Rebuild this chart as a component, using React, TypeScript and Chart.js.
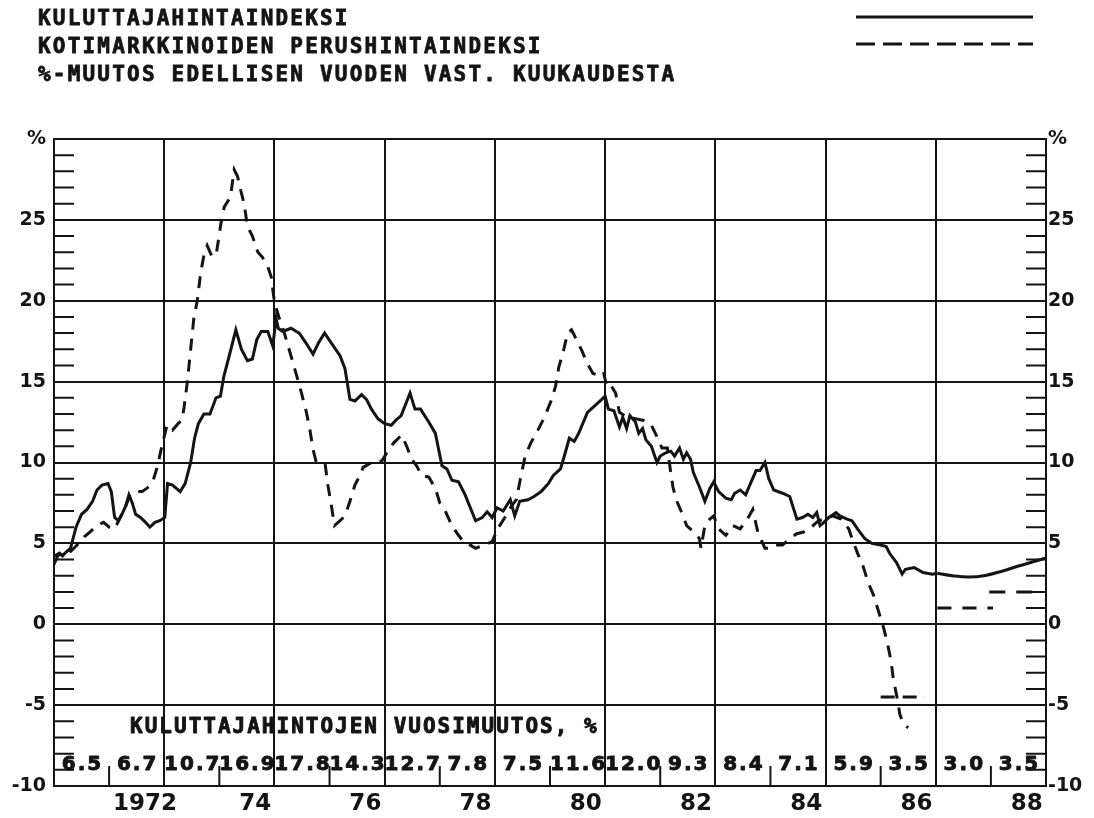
import React, { useEffect, useRef } from 'react';
import { Chart, registerables } from 'chart.js';

Chart.register(...registerables);

// ---------- DATA ----------
// Consumer price index, % change on same month of previous year  [year, value]
const cpiMonthly: [number, number][] = [
  [1971.0, 3.7], [1971.08, 4.3], [1971.17, 4.3], [1971.3, 4.7], [1971.4, 6.0], [1971.5, 6.8],
  [1971.6, 7.1], [1971.7, 7.6], [1971.78, 8.3], [1971.87, 8.6], [1971.98, 8.7], [1972.04, 8.2],
  [1972.1, 6.6], [1972.17, 6.4], [1972.22, 6.7], [1972.3, 7.3], [1972.36, 8.0], [1972.42, 7.5],
  [1972.48, 6.8], [1972.57, 6.6], [1972.66, 6.3], [1972.74, 6.0], [1972.83, 6.3], [1972.92, 6.4],
  [1973.01, 6.6], [1973.06, 8.7], [1973.15, 8.6], [1973.29, 8.2], [1973.38, 8.7], [1973.48, 10.0],
  [1973.55, 11.5], [1973.62, 12.4], [1973.72, 13.0], [1973.83, 13.0], [1973.94, 14.0], [1974.02, 14.1],
  [1974.08, 15.3], [1974.18, 16.6], [1974.3, 18.2], [1974.4, 17.0], [1974.51, 16.3], [1974.6, 16.4],
  [1974.68, 17.6], [1974.76, 18.1], [1974.88, 18.1], [1974.97, 17.2], [1975.03, 18.9], [1975.07, 18.3],
  [1975.15, 18.1], [1975.3, 18.3], [1975.45, 18.0], [1975.57, 17.4], [1975.7, 16.7], [1975.8, 17.4],
  [1975.91, 18.0], [1976.03, 17.4], [1976.19, 16.6], [1976.28, 15.8], [1976.37, 13.9], [1976.46, 13.8],
  [1976.58, 14.2], [1976.67, 13.9], [1976.76, 13.3], [1976.88, 12.7], [1977.0, 12.4], [1977.12, 12.3],
  [1977.2, 12.6], [1977.3, 12.9], [1977.46, 14.3], [1977.55, 13.3], [1977.65, 13.3], [1977.8, 12.5],
  [1977.92, 11.8], [1978.04, 9.8], [1978.13, 9.6], [1978.22, 8.9], [1978.34, 8.8], [1978.46, 8.0],
  [1978.65, 6.4], [1978.77, 6.6], [1978.86, 6.95], [1978.95, 6.6], [1979.04, 7.2], [1979.15, 7.0],
  [1979.28, 7.7], [1979.36, 6.7], [1979.45, 7.6], [1979.6, 7.7], [1979.71, 7.9], [1979.84, 8.2],
  [1979.97, 8.7], [1980.06, 9.2], [1980.19, 9.6], [1980.26, 10.4], [1980.35, 11.5], [1980.44, 11.3],
  [1980.52, 11.8], [1980.68, 13.1], [1980.81, 13.5], [1980.94, 13.9], [1981.0, 14.1], [1981.06, 13.3],
  [1981.16, 13.2], [1981.26, 12.2], [1981.32, 12.8], [1981.39, 12.1], [1981.45, 12.9], [1981.55, 12.5],
  [1981.61, 11.8], [1981.68, 12.1], [1981.74, 11.4], [1981.84, 11.0], [1981.94, 10.0], [1982.0, 10.4],
  [1982.1, 10.6], [1982.19, 10.7], [1982.26, 10.4], [1982.35, 10.9], [1982.42, 10.2], [1982.48, 10.6],
  [1982.55, 10.2], [1982.6, 9.4], [1982.71, 8.5], [1982.81, 7.6], [1982.9, 8.4], [1982.97, 8.8],
  [1983.06, 8.2], [1983.19, 7.8], [1983.29, 7.7], [1983.35, 8.1], [1983.45, 8.3], [1983.55, 8.0],
  [1983.65, 8.8], [1983.74, 9.5], [1983.81, 9.5], [1983.9, 10.0], [1983.97, 9.0], [1984.06, 8.3],
  [1984.22, 8.1], [1984.35, 7.9], [1984.48, 6.5], [1984.58, 6.6], [1984.68, 6.8], [1984.77, 6.6],
  [1984.84, 6.9], [1984.9, 6.1], [1984.97, 6.3], [1985.06, 6.6], [1985.19, 6.9], [1985.26, 6.7],
  [1985.39, 6.5], [1985.48, 6.4], [1985.58, 5.9], [1985.71, 5.3], [1985.84, 5.0], [1986.0, 4.9],
  [1986.1, 4.8], [1986.16, 4.4], [1986.29, 3.8], [1986.39, 3.1], [1986.45, 3.4], [1986.61, 3.5],
  [1986.77, 3.2], [1986.94, 3.1], [1987.03, 3.15],
];

// Consumer price forecast 1987-88 (smooth curve)
const cpiForecast: [number, number][] = [
  [1987.03, 3.15], [1987.3, 3.0], [1987.6, 2.92], [1987.9, 3.02], [1988.2, 3.28], [1988.5, 3.6],
  [1988.75, 3.85], [1989.0, 4.1],
];

// Domestic supply (basic) price index, % change  [year, value]
const basicPriceMonthly: [number, number][] = [
  [1971.0, 4.2], [1971.1, 4.4], [1971.2, 4.1], [1971.3, 4.5], [1971.45, 5.0], [1971.55, 5.4],
  [1971.65, 5.7], [1971.78, 6.1], [1971.9, 6.3], [1972.0, 6.0], [1972.1, 5.9], [1972.2, 6.6],
  [1972.3, 7.3], [1972.38, 8.0], [1972.5, 8.2], [1972.6, 8.2], [1972.72, 8.5], [1972.8, 8.9],
  [1972.88, 9.8], [1972.95, 10.9], [1973.0, 11.6], [1973.05, 12.3], [1973.15, 12.0], [1973.25, 12.4],
  [1973.32, 12.6], [1973.36, 13.4], [1973.42, 15.0], [1973.48, 17.0], [1973.54, 19.0], [1973.6, 20.0],
  [1973.66, 21.7], [1973.72, 22.8], [1973.78, 23.4], [1973.87, 22.7], [1973.95, 23.0], [1974.03, 24.8],
  [1974.09, 25.8], [1974.2, 26.4], [1974.27, 28.1], [1974.33, 27.7], [1974.39, 26.8], [1974.45, 26.0],
  [1974.51, 24.6], [1974.6, 24.0], [1974.7, 23.0], [1974.78, 22.7], [1974.88, 22.1], [1974.94, 21.5],
  [1975.0, 19.9], [1975.08, 19.0], [1975.18, 18.0], [1975.3, 16.6], [1975.4, 15.4], [1975.49, 14.3],
  [1975.58, 13.1], [1975.64, 12.1], [1975.7, 10.8], [1975.76, 10.0], [1975.85, 10.0], [1975.92, 9.9],
  [1975.97, 8.6], [1976.03, 7.4], [1976.09, 6.1], [1976.19, 6.4], [1976.28, 6.7], [1976.37, 7.6],
  [1976.46, 8.6], [1976.55, 9.2], [1976.61, 9.7], [1976.76, 10.0], [1976.95, 10.1], [1977.04, 10.6],
  [1977.16, 11.2], [1977.31, 11.7], [1977.4, 11.0], [1977.49, 10.2], [1977.58, 9.8], [1977.67, 9.2],
  [1977.8, 9.1], [1977.92, 8.4], [1978.0, 7.5], [1978.1, 7.0], [1978.22, 6.1], [1978.34, 5.5],
  [1978.43, 5.1], [1978.5, 5.0], [1978.65, 4.7], [1978.8, 4.9], [1978.95, 5.1], [1979.05, 5.9],
  [1979.2, 6.7], [1979.3, 7.3], [1979.39, 7.7], [1979.48, 9.3], [1979.55, 10.4], [1979.65, 11.2],
  [1979.78, 12.0], [1979.9, 12.8], [1980.03, 13.9], [1980.1, 14.7], [1980.16, 15.9], [1980.23, 16.7],
  [1980.32, 18.0], [1980.39, 18.2], [1980.48, 17.6], [1980.58, 16.9], [1980.68, 16.1], [1980.78, 15.5],
  [1980.87, 15.4], [1980.97, 15.6], [1981.03, 14.7], [1981.1, 14.8], [1981.19, 14.3], [1981.26, 13.1],
  [1981.4, 12.8], [1981.55, 12.7], [1981.7, 12.6], [1981.84, 12.3], [1981.94, 11.6], [1982.03, 10.9],
  [1982.13, 10.9], [1982.19, 9.4], [1982.23, 8.5], [1982.29, 7.7], [1982.39, 6.9], [1982.48, 6.1],
  [1982.61, 5.7], [1982.71, 5.3], [1982.74, 4.7], [1982.81, 6.1], [1982.9, 6.5], [1982.97, 6.7],
  [1983.06, 5.9], [1983.19, 5.5], [1983.32, 6.1], [1983.45, 5.9], [1983.58, 6.5], [1983.68, 7.1],
  [1983.77, 5.7], [1983.9, 4.7], [1984.0, 4.7], [1984.1, 4.9], [1984.22, 4.9], [1984.35, 5.3],
  [1984.48, 5.6], [1984.6, 5.7], [1984.74, 6.0], [1984.87, 6.4], [1984.97, 6.5], [1985.13, 6.7],
  [1985.28, 6.5], [1985.42, 5.9], [1985.48, 5.3], [1985.58, 4.4], [1985.68, 3.6], [1985.77, 2.6],
  [1985.87, 1.8], [1985.97, 0.7], [1986.06, -0.3], [1986.13, -1.3], [1986.19, -2.3], [1986.23, -3.4],
  [1986.29, -4.4], [1986.35, -5.6], [1986.42, -6.2], [1986.5, -6.4],
];

// Basic price forecasts
const basicForecast1986: [number, number][] = [[1986.0, -4.5], [1986.8, -4.5]];
const basicForecast1987: [number, number][] = [[1987.03, 1.0], [1988.04, 1.0]];
const basicForecast1988: [number, number][] = [[1987.97, 2.0], [1988.95, 2.0]];

// Annual consumer price change row
const annualYears = [1971, 1972, 1973, 1974, 1975, 1976, 1977, 1978, 1979, 1980, 1981, 1982, 1983, 1984, 1985, 1986, 1987, 1988];
const annualCpi = ['6.5', '6.7', '10.7', '16.9', '17.8', '14.3', '12.7', '7.8', '7.5', '11.6', '12.0', '9.3', '8.4', '7.1', '5.9', '3.5', '3.0', '3.5'];

// Axis
const yearTickValues = [1972, 1974, 1976, 1978, 1980, 1982, 1984, 1986, 1988];
const yearTickLabels = ['1972', '74', '76', '78', '80', '82', '84', '86', '88'];
const gridYears = [1973, 1975, 1977, 1979, 1981, 1983, 1985, 1987];
const X_MIN = 1971;
const X_MAX = 1989;
const Y_MIN = -10;
const Y_MAX = 30;

const legendTitles = ['KULUTTAJAHINTAINDEKSI', 'KOTIMARKKINOIDEN PERUSHINTAINDEKSI'];
const subTitle = '%-MUUTOS EDELLISEN VUODEN VAST. KUUKAUDESTA';
const rowCaption = 'KULUTTAJAHINTOJEN VUOSIMUUTOS, %';

// ---------- STYLE ----------
const INK = '#141414';
const MONO = "'DejaVu Sans Mono', monospace";
const SANS = "'DejaVu Sans', sans-serif";
const LABEL_SHIFT = 0.65;

const toXY = (arr: [number, number][]) => arr.map(([x, y]) => ({ x, y }));

const decorPlugin = {
  id: 'decor',
  afterDraw(chart: any) {
    const { ctx, chartArea: a, scales } = chart;
    const xs = scales.x;
    const ys = scales.y;
    ctx.save();
    ctx.strokeStyle = INK;
    ctx.lineWidth = 2;
    ctx.setLineDash([]);
    ctx.beginPath();
    for (let v = Y_MIN + 1; v < Y_MAX; v++) {
      if (v % 5 === 0) continue;
      const py = ys.getPixelForValue(v);
      ctx.moveTo(a.left, py);
      ctx.lineTo(a.left + 20, py);
      ctx.moveTo(a.right - 20, py);
      ctx.lineTo(a.right, py);
    }
    for (const yr of yearTickValues) {
      const px = xs.getPixelForValue(yr);
      ctx.moveTo(px, a.bottom);
      ctx.lineTo(px, a.bottom - 20);
    }
    ctx.stroke();

    ctx.fillStyle = INK;
    ctx.lineWidth = 0.9;
    ctx.lineJoin = 'round';
    ctx.textBaseline = 'middle';
    ctx.textAlign = 'center';
    ctx.font = `bold 20px ${SANS}`;
    (ctx as any).letterSpacing = '2px';
    annualYears.forEach((yr, i) => {
      const px = xs.getPixelForValue(yr + 0.5) + 1;
      ctx.fillText(annualCpi[i], px, a.bottom - 21);
      ctx.strokeText(annualCpi[i], px, a.bottom - 21);
    });

    ctx.textAlign = 'left';
    ctx.font = `bold 21px ${MONO}`;
    (ctx as any).letterSpacing = '2px';
    const cx = xs.getPixelForValue(1972.38);
    ctx.fillText(rowCaption, cx, a.bottom - 58);
    ctx.strokeText(rowCaption, cx, a.bottom - 58);

    // legend samples
    ctx.lineWidth = 3;
    ctx.beginPath();
    ctx.moveTo(856, 17);
    ctx.lineTo(1033, 17);
    ctx.stroke();
    ctx.setLineDash([19, 8]);
    ctx.beginPath();
    ctx.moveTo(856, 44);
    ctx.lineTo(1033, 44);
    ctx.stroke();
    ctx.restore();
  },
};

function ChartCanvas() {
  const ref = useRef<HTMLCanvasElement | null>(null);
  useEffect(() => {
    if (!ref.current) return;
    const labelPositions = yearTickValues.map((v) => v + LABEL_SHIFT);
    const lineBase = { pointRadius: 0, borderColor: INK, fill: false, spanGaps: true };
    const chart = new Chart(ref.current, {
      type: 'line',
      data: {
        datasets: [
          { ...lineBase, label: legendTitles[0], data: toXY(cpiMonthly), borderWidth: 3, tension: 0 },
          { ...lineBase, label: legendTitles[0] + ' ennuste', data: toXY(cpiForecast), borderWidth: 3, tension: 0.4 },
          { ...lineBase, label: legendTitles[1], data: toXY(basicPriceMonthly), borderWidth: 3, borderDash: [12, 9], tension: 0 },
          { ...lineBase, label: legendTitles[1] + ' 1986', data: toXY(basicForecast1986), borderWidth: 3, borderDash: [14, 8] },
          { ...lineBase, label: legendTitles[1] + ' 1987', data: toXY(basicForecast1987), borderWidth: 3, borderDash: [14, 11] },
          { ...lineBase, label: legendTitles[1] + ' 1988', data: toXY(basicForecast1988), borderWidth: 3, borderDash: [16, 11] },
        ],
      },
      options: {
        animation: false,
        responsive: false,
        devicePixelRatio: 1,
        layout: { padding: { top: 139, left: 0, right: 0, bottom: 0 } },
        plugins: { legend: { display: false }, tooltip: { enabled: false }, title: { display: false } },
        scales: {
          x: {
            type: 'linear',
            min: X_MIN,
            max: X_MAX,
            afterBuildTicks: (scale: any) => {
              scale.ticks = [...gridYears, ...labelPositions].sort((p, q) => p - q).map((value) => ({ value }));
            },
            afterFit: (scale: any) => {
              scale.height = 32;
            },
            grid: {
              drawTicks: false,
              lineWidth: 2,
              color: (c: any) => (c.tick && gridYears.includes(c.tick.value) ? INK : 'rgba(0,0,0,0)'),
            },
            border: { display: true, color: INK, width: 2 },
            ticks: {
              autoSkip: false,
              maxRotation: 0,
              padding: 4,
              color: INK,
              font: { family: SANS, size: 23, weight: 'bold' },
              callback: (value: any) => {
                const i = labelPositions.findIndex((p) => Math.abs(p - Number(value)) < 1e-6);
                return i >= 0 ? yearTickLabels[i] : '';
              },
            },
          },
          y: {
            type: 'linear',
            position: 'left',
            min: Y_MIN,
            max: Y_MAX,
            afterFit: (scale: any) => {
              scale.width = 54;
            },
            grid: { drawTicks: false, lineWidth: 2, color: INK },
            border: { display: true, color: INK, width: 2 },
            ticks: {
              stepSize: 5,
              padding: 8,
              color: INK,
              font: { family: SANS, size: 19, weight: 'bold' },
              callback: (v: any) => (Number(v) === Y_MAX ? '%' : String(v)),
            },
          },
          y2: {
            type: 'linear',
            position: 'right',
            min: Y_MIN,
            max: Y_MAX,
            afterFit: (scale: any) => {
              scale.width = 48;
            },
            grid: { display: false, drawTicks: false },
            border: { display: true, color: INK, width: 2 },
            ticks: {
              stepSize: 5,
              padding: 2,
              color: INK,
              font: { family: SANS, size: 19, weight: 'bold' },
              callback: (v: any) => (Number(v) === Y_MAX ? '%' : String(v)),
            },
          },
        },
      } as any,
      plugins: [decorPlugin],
    });
    return () => chart.destroy();
  }, []);
  return <canvas ref={ref} width={1094} height={818} style={{ position: 'absolute', left: 0, top: 0, width: 1094, height: 818 }} />;
}

export default function App() {
  const lineStyle: React.CSSProperties = {
    position: 'absolute',
    left: 38,
    margin: 0,
    fontFamily: MONO,
    fontWeight: 'bold',
    fontSize: 21,
    letterSpacing: '2.2px',
    lineHeight: '28px',
    color: INK,
    whiteSpace: 'pre',
    WebkitTextStroke: `0.8px ${INK}`,
  };
  return (
    <div style={{ position: 'absolute', left: 0, top: 0, width: 1094, height: 818, background: '#fff', overflow: 'hidden' }}>
      <ChartCanvas />
      <div style={{ ...lineStyle, top: 4 }}>{legendTitles[0]}</div>
      <div style={{ ...lineStyle, top: 32 }}>{legendTitles[1]}</div>
      <div style={{ ...lineStyle, top: 60 }}>{subTitle}</div>
    </div>
  );
}
